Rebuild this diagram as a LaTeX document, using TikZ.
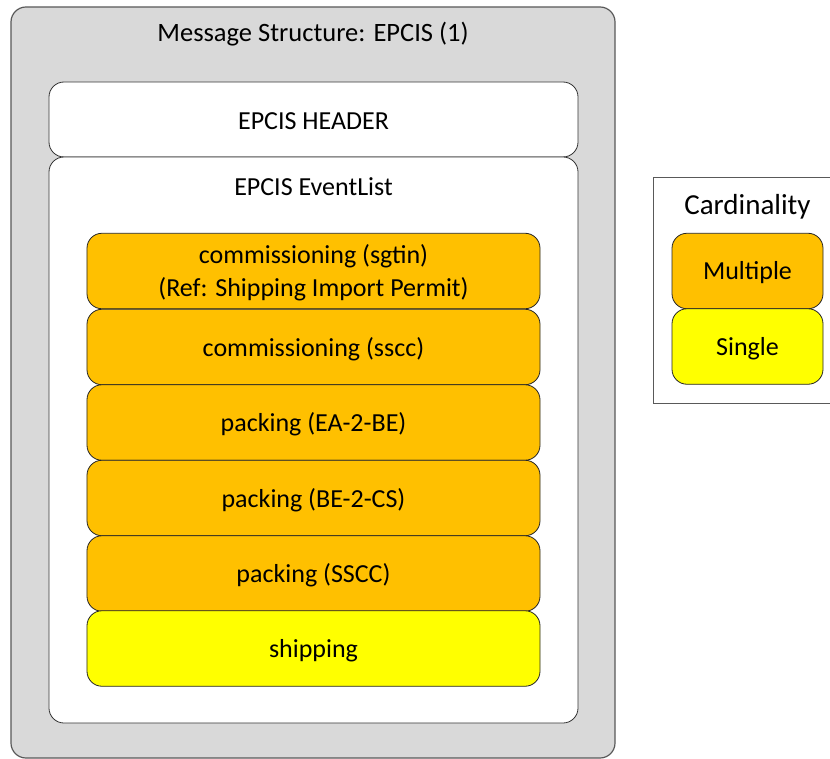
\documentclass[tikz,border=0pt]{standalone}
\usepackage{fontspec}
\setmainfont{Carlito}
\definecolor{boxgray}{HTML}{D9D9D9}
\definecolor{evorange}{HTML}{FFC000}
\definecolor{evyellow}{HTML}{FFFF00}
\definecolor{edgegray}{HTML}{595959}
\begin{document}
\begin{tikzpicture}[x=1bp,y=-1bp,
  panel/.style={draw=edgegray, line width=1.2bp, rounded corners=15bp, fill=boxgray, minimum width=604bp, minimum height=751bp, inner sep=0pt},
  whitebox/.style={draw=black!80, line width=0.8bp, rounded corners=15bp, fill=white, minimum width=529bp, inner sep=0pt},
  evbox/.style={draw=black!85, line width=0.8bp, rounded corners=15bp, minimum width=453bp, minimum height=75.5bp, inner sep=0pt},
  legbox/.style={draw=black!85, line width=0.8bp, rounded corners=15bp, minimum width=151bp, minimum height=75.5bp, inner sep=0pt},
  lbl/.style={font=\fontsize{26bp}{33bp}\selectfont, inner sep=0pt, align=center}]
\useasboundingbox (0,0) rectangle (830,759);
\clip (0,0) rectangle (830,759);
\node[panel] (outer) at (313,382.5) {};
\node[lbl, font=\fontsize{26.5bp}{32bp}\selectfont] (outertitle) at (313,34) {Message Structure: EPCIS (1)};
\node[whitebox, minimum height=75bp] (header) at (313.5,119.5) {};
\node[lbl] (headertext) at ([yshift=-1.5bp]header.center) {EPCIS HEADER};
\node[whitebox, minimum height=566bp] (eventlist) at (313.5,440) {};
\node[lbl] (eltitle) at (313.5,186.5) {EPCIS EventList};
\node[evbox, fill=evorange] (e1) at (313.5,271) {};
\node[evbox, fill=evorange] (e2) at (313.5,347) {};
\node[evbox, fill=evorange] (e3) at (313.5,422.5) {};
\node[evbox, fill=evorange] (e4) at (313.5,498) {};
\node[evbox, fill=evorange] (e5) at (313.5,573.5) {};
\node[evbox, fill=evyellow] (e6) at (313.5,648.5) {};
\node[lbl] (e1t) at ([yshift=-2bp]e1.center) {commissioning (sgtin)\\(Ref: Shipping Import Permit)};
\node[lbl] (e2t) at ([yshift=-2bp]e2.center) {commissioning (sscc)};
\node[lbl] (e3t) at ([yshift=-2bp]e3.center) {packing (EA-2-BE)};
\node[lbl] (e4t) at ([yshift=-2bp]e4.center) {packing (BE-2-CS)};
\node[lbl] (e5t) at ([yshift=-2bp]e5.center) {packing (SSCC)};
\node[lbl] (e6t) at ([yshift=-2bp]e6.center) {shipping};
\node[draw=edgegray, line width=0.8bp, fill=white, minimum width=190bp, minimum height=226bp, inner sep=0pt] (legend) at (748,290) {};
\node[lbl, font=\fontsize{29bp}{34bp}\selectfont] (legtitle) at (747.5,206.5) {Cardinality};
\node[legbox, fill=evorange] (multi) at (747.5,271) {};
\node[legbox, fill=evyellow] (single) at (747.5,346.5) {};
\node[lbl] (multit) at ([yshift=-2bp]multi.center) {Multiple};
\node[lbl] (singlet) at ([yshift=-2bp]single.center) {Single};
\end{tikzpicture}
\end{document}
